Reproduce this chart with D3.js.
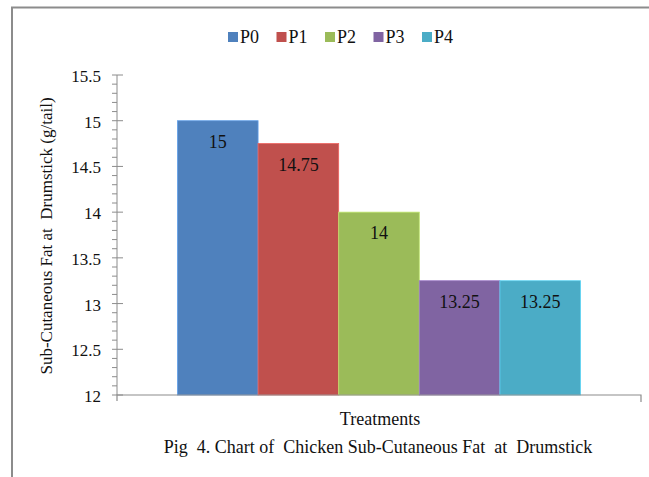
<!DOCTYPE html>
<html>
<head>
<meta charset="utf-8">
<script src="https://cdn.jsdelivr.net/npm/d3@7"></script>
</head>
<body style="margin:0">
<script>
// data
const treatments = ['P0', 'P1', 'P2', 'P3', 'P4'];
const fatValues = [15, 14.75, 14, 13.25, 13.25];
const colors = ['#4F81BD', '#C0504D', '#9BBB59', '#8064A2', '#4BACC6'];
const yTicks = [12, 12.5, 13, 13.5, 14, 14.5, 15, 15.5];

const width = 649;
const height = 477;
const fontFam = "'Liberation Serif', 'Times New Roman', serif";

// plot area
const plot = { left: 117, right: 641, top: 75, bottom: 395 };

const svg = d3.select('body')
  .append('svg')
  .attr('width', width)
  .attr('height', height)
  .style('font-family', fontFam, 'important');

// helper so every label gets the serif face
const label = (sel, size) => sel
  .style('font-family', fontFam, 'important')
  .attr('font-size', size)
  .attr('fill', '#111');

// outer frame (only top and left visible)
svg.append('path')
  .attr('d', `M12,${height} L12,7.5 L${width},7.5`)
  .attr('fill', 'none')
  .attr('stroke', '#8c8c8c')
  .attr('stroke-width', 2);

// scales
const yScale = d3.scaleLinear()
  .domain([12, 15.5])
  .range([plot.bottom, plot.top]);

// single category, excel gap width 150%
const xScale = d3.scaleBand()
  .domain(treatments)
  .range([plot.left, plot.right])
  .paddingInner(0)
  .paddingOuter(0.75);

const data = treatments.map((t, i) => ({ name: t, value: fatValues[i], color: colors[i] }));

// bars
svg.append('g')
  .selectAll('rect')
  .data(data)
  .join('rect')
  .attr('x', d => xScale(d.name))
  .attr('y', d => yScale(d.value))
  .attr('width', xScale.bandwidth())
  .attr('height', d => yScale(12) - yScale(d.value))
  .attr('fill', d => d.color)
  .attr('stroke', d => d3.color(d.color).brighter(0.6))
  .attr('stroke-width', 0.8);

// data labels
svg.append('g')
  .selectAll('text')
  .data(data)
  .join('text')
  .attr('x', d => xScale(d.name) + xScale.bandwidth() / 2)
  .attr('y', d => yScale(d.value) + 27)
  .attr('text-anchor', 'middle')
  .call(label, 18)
  .text(d => d.value);

// y axis with minor ticks
const minorTicks = d3.range(12, 15.5001, 0.1).filter(v => Math.abs(v * 2 - Math.round(v * 2)) > 0.01);

const yAxisG = svg.append('g').attr('stroke', '#8c8c8c');
yAxisG.append('line')
  .attr('x1', plot.left).attr('x2', plot.left)
  .attr('y1', plot.top).attr('y2', plot.bottom);
yAxisG.selectAll('line.major')
  .data(yTicks)
  .join('line')
  .attr('class', 'major')
  .attr('x1', plot.left - 5).attr('x2', plot.left + 6)
  .attr('y1', d => yScale(d)).attr('y2', d => yScale(d));
yAxisG.selectAll('line.minor')
  .data(minorTicks)
  .join('line')
  .attr('class', 'minor')
  .attr('x1', plot.left - 5).attr('x2', plot.left)
  .attr('y1', d => yScale(d)).attr('y2', d => yScale(d));

svg.append('g')
  .selectAll('text')
  .data(yTicks)
  .join('text')
  .attr('x', 101)
  .attr('y', d => yScale(d) + 7)
  .attr('text-anchor', 'end')
  .call(label, 17)
  .text(d => d);

// x axis
svg.append('path')
  .attr('d', `M${plot.left},${plot.bottom + 6} L${plot.left},${plot.bottom} L${plot.right},${plot.bottom} L${plot.right},${plot.bottom + 7}`)
  .attr('fill', 'none')
  .attr('stroke', '#8c8c8c')
  .attr('stroke-width', 1.2);

// legend
const legendScale = d3.scalePoint()
  .domain(treatments)
  .range([228, 422]);

const legend = svg.append('g')
  .selectAll('g')
  .data(data)
  .join('g')
  .attr('transform', d => `translate(${legendScale(d.name)},37)`);
legend.append('rect')
  .attr('x', 0).attr('y', -5)
  .attr('width', 10).attr('height', 10)
  .attr('fill', d => d.color);
legend.append('text')
  .attr('x', 12)
  .attr('y', 6)
  .call(label, 18)
  .text(d => d.name);

// axis titles
svg.append('text')
  .attr('transform', 'translate(52,236) rotate(-90)')
  .attr('text-anchor', 'middle')
  .call(label, 17)
  .style('white-space', 'pre')
  .text('Sub-Cutaneous Fat at  Drumstick (g/tail)');

svg.append('text')
  .attr('x', 380)
  .attr('y', 425)
  .attr('text-anchor', 'middle')
  .call(label, 18)
  .text('Treatments');

svg.append('text')
  .attr('x', 378)
  .attr('y', 453)
  .attr('text-anchor', 'middle')
  .call(label, 18)
  .style('white-space', 'pre')
  .text('Pig  4. Chart of  Chicken Sub-Cutaneous Fat  at  Drumstick');
</script>
</body>
</html>
